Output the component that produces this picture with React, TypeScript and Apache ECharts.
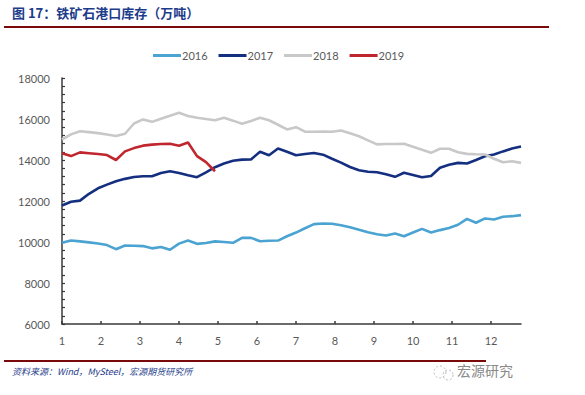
import React, { useEffect, useRef } from "react";
import * as echarts from "echarts";

const seriesNames = ["2016", "2017", "2018", "2019"];
const seriesColors = ["#4BA3D1", "#142F80", "#C8C8C8", "#C0262D"];

// weekly port inventory (10k tonnes), week 0 = first week of January
const data2016 = [
  9960, 10070, 10030, 9980, 9930, 9850, 9650, 9830, 9820, 9800, 9690, 9760, 9620,
  9920, 10070, 9910, 9950, 10030, 10000, 9960, 10200, 10200, 10040, 10060, 10070,
  10280, 10460, 10670, 10870, 10900, 10890, 10820, 10720, 10600, 10480, 10380,
  10320, 10410, 10280, 10460, 10640, 10460, 10580, 10680, 10840, 11130, 10940,
  11150, 11100, 11230, 11260, 11310,
];
const data2017 = [
  11780, 11960, 12020, 12350, 12620, 12800, 12960, 13080, 13170, 13210, 13210,
  13370, 13450, 13370, 13260, 13160, 13400, 13650, 13830, 13960, 14020, 14030,
  14400, 14230, 14560, 14400, 14230, 14290, 14340, 14260, 14060, 13870, 13660,
  13500, 13430, 13400, 13300, 13180, 13380, 13270, 13160, 13220, 13620, 13770,
  13860, 13830, 14000, 14180, 14270, 14420, 14560, 14660,
];
const data2018 = [
  15000, 15250, 15400, 15360, 15310, 15240, 15170, 15280, 15780, 15980, 15860,
  16010, 16160, 16300, 16150, 16060, 16000, 15940, 16060, 15920, 15770, 15900,
  16060, 15940, 15720, 15490, 15600, 15380, 15380, 15390, 15380, 15440, 15300,
  15160, 14960, 14760, 14780, 14780, 14790, 14650, 14500, 14350, 14550, 14550,
  14380, 14300, 14280, 14270, 14060, 13890, 13940, 13860,
];
const data2019 = [
  14330, 14190, 14370, 14330, 14290, 14240, 14000, 14420, 14580, 14700, 14750,
  14780, 14790, 14700, 14850, 14190, 13900, 13450,
];
const allData = [data2016, data2017, data2018, data2019];

const monthLabels = ["1", "2", "3", "4", "5", "6", "7", "8", "9", "10", "11", "12"];
const yTickLabels = [6000, 8000, 10000, 12000, 14000, 16000, 18000];
const WEEKS_PER_MONTH = 52 / 12;

const titleText = "图 17：铁矿石港口库存（万吨）";
const sourceText = "资料来源：Wind，MySteel，宏源期货研究所";
const watermarkText = "宏源研究";

export default function App() {
  const ref = useRef<HTMLDivElement>(null);

  useEffect(() => {
    if (!ref.current) return;
    const chart = echarts.init(ref.current, undefined, { renderer: "svg" });
    const axisFont = { fontFamily: "Lato, 'Noto Sans', sans-serif", fontSize: 11, color: "#595959" };

    chart.setOption({
      animation: false,
      backgroundColor: "#ffffff",
      legend: {
        top: 45,
        left: 148,
        itemWidth: 28,
        itemHeight: 3,
        itemGap: 11,
        icon: "rect",
        textStyle: { ...axisFont, fontSize: 11, padding: [0, 0, 0, -4] },
        data: seriesNames,
      },
      grid: { left: 62, top: 78, width: 459, height: 246, containLabel: false },
      xAxis: {
        type: "value",
        min: 0,
        max: 51,
        interval: WEEKS_PER_MONTH,
        axisLine: { lineStyle: { color: "#3a3a3a", width: 1.5 } },
        axisTick: { inside: true, length: 3, lineStyle: { color: "#3a3a3a", width: 1.5 } },
        splitLine: { show: false },
        axisLabel: {
          ...axisFont,
          margin: 11,
          showMaxLabel: false,
          formatter: (v: number) => {
            const idx = Math.round(v / WEEKS_PER_MONTH);
            if (Math.abs(v - idx * WEEKS_PER_MONTH) > 0.01) return "";
            return monthLabels[idx] ?? "";
          },
        },
      },
      yAxis: {
        type: "value",
        min: 6000,
        max: 18000,
        interval: 400,
        axisLine: { show: true, lineStyle: { color: "#3a3a3a", width: 1.5 } },
        axisTick: { show: true, inside: true, length: 3, lineStyle: { color: "#3a3a3a", width: 1.2 } },
        splitLine: { show: false },
        axisLabel: {
          ...axisFont,
          margin: 12,
          formatter: (v: number) => (yTickLabels.includes(v) ? String(v) : ""),
        },
      },
      series: seriesNames.map((name, k) => ({
        name,
        type: "line",
        data: allData[k].map((v, i) => [i, v]),
        showSymbol: false,
        symbol: "none",
        lineStyle: { color: seriesColors[k], width: 2.6 },
        itemStyle: { color: seriesColors[k] },
        z: k === 3 ? 5 : 2 + k,
      })),
      graphic: [
        {
          type: "text",
          left: 12,
          top: 6,
          style: {
            text: titleText,
            fill: "#1D3C8A",
            font: "bold 13px 'Noto Sans CJK SC', sans-serif",
          },
        },
        {
          type: "line",
          shape: { x1: 4, y1: 27, x2: 549, y2: 27 },
          style: { stroke: "#7A0A0A", lineWidth: 2 },
        },
        {
          type: "line",
          shape: { x1: 4, y1: 361, x2: 486, y2: 361 },
          style: { stroke: "#7A0A0A", lineWidth: 2 },
        },
        {
          type: "text",
          left: 12,
          top: 367,
          style: {
            text: sourceText,
            fill: "#1D3C8A",
            font: "italic 9px 'Noto Sans CJK SC', serif",
          },
        },
        {
          type: "circle",
          shape: { cx: 440, cy: 372, r: 6 },
          style: { fill: "none", stroke: "#aaaaaa", lineWidth: 0.8, lineDash: [2, 2] },
        },
        {
          type: "circle",
          shape: { cx: 448, cy: 375, r: 5 },
          style: { fill: "none", stroke: "#aaaaaa", lineWidth: 0.8, lineDash: [2, 2] },
        },
        {
          type: "text",
          left: 457,
          top: 363,
          style: {
            text: watermarkText,
            fill: "#8a8a8a",
            font: "14px 'Noto Sans CJK SC', sans-serif",
          },
        },
      ],
    });

    return () => chart.dispose();
  }, []);

  return (
    <div
      ref={ref}
      style={{ position: "fixed", left: 0, top: 0, width: 585, height: 395, background: "#fff" }}
    />
  );
}
